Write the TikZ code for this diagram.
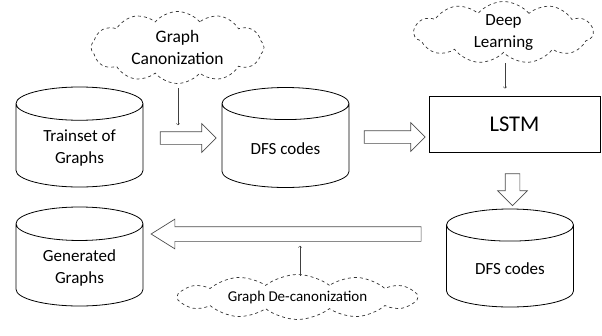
\documentclass[tikz,border=0pt]{standalone}
\usepackage{fontspec}
\setmainfont{Carlito}
\usetikzlibrary{shapes.geometric,shapes.symbols,shapes.arrows}

\begin{document}
\begin{tikzpicture}[x=1pt,y=-1pt,
    db/.style={cylinder, shape border rotate=90, draw, aspect=0.42, minimum width=127pt, minimum height=100pt, align=center, font=\fontsize{17}{22}\selectfont, line width=0.8pt},
    idea/.style={cloud, cloud puffs=12, cloud puff arc=100, cloud ignores aspect, draw=black!80, dashed, align=center, inner sep=0pt, line width=0.7pt},
    fat/.style={single arrow, draw=black!70, line width=0.7pt, inner sep=6pt, single arrow head indent=0pt},
    hint/.style={->, black!75, line width=0.5pt}]
  \useasboundingbox (0,0) rectangle (602,335);

  % stores
  \node[db, anchor=shape center] (train) at (79.5,137) {Trainset of\\Graphs};
  \node[db, anchor=shape center] (codes) at (285.5,137.5) {DFS codes};
  \node[db, anchor=shape center, minimum height=98pt] (gcodes) at (510,258) {DFS codes};
  \node[db, anchor=shape center, minimum height=99pt] (gen) at (79.5,256.5) {Generated\\Graphs};

  \node[draw, line width=0.8pt, minimum width=171pt, minimum height=56pt, font=\fontsize{22.5}{27}\selectfont] (lstm) at (514.5,124) {LSTM};

  % clouds
  \node[idea, minimum width=173pt, minimum height=72pt, font=\fontsize{17.5}{22}\selectfont] (canon) at (177.5,47.5) {Graph\\Canonization};
  \node[idea, minimum width=179pt, minimum height=62pt, cloud puffs=11, font=\fontsize{17}{22}\selectfont] (deep) at (503.5,32.5) {Deep\\Learning};
  \node[idea, minimum width=241pt, minimum height=45pt, cloud puffs=12, cloud puff arc=75, font=\fontsize{15}{18}\selectfont] (decanon) at (297.5,297) {Graph De-canonization};
  \coordinate (canonfoot) at (178,88);
  \coordinate (deepfoot) at (505,63);
  \coordinate (decanontop) at (300,276);

  % block arrows
  \node[fat, minimum height=56pt, minimum width=28pt, single arrow head extend=8pt] (ar1) at (185,138) {};
  \node[fat, minimum height=61pt, minimum width=28pt, single arrow head extend=8pt] (ar2) at (391.5,137) {};
  \node[fat, shape border rotate=270, inner sep=7pt, minimum height=32pt, minimum width=29pt, single arrow head extend=7.5pt] (ar3) at (512.5,186) {};
  \node[fat, shape border rotate=180, inner sep=7pt, minimum height=270pt, minimum width=29pt, single arrow head extend=7.5pt, single arrow tip angle=64] (back) at (292,234) {};

  \draw[hint, shorten >=6pt] (canonfoot) -- (canonfoot |- ar1.north);
  \draw[hint, shorten >=7pt] (deepfoot) -- (deepfoot |- lstm.north);
  \draw[hint, shorten >=4pt] (decanontop) -- (decanontop |- back.south);
\end{tikzpicture}
\end{document}
